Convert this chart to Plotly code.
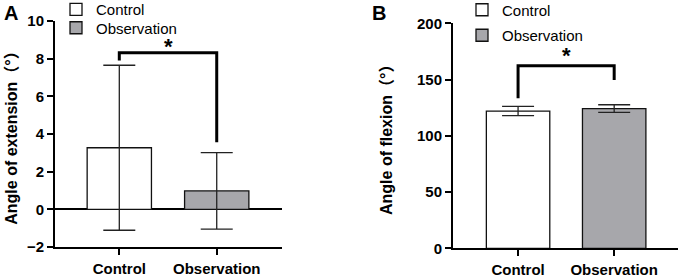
import plotly.graph_objects as go

# ---- data ----
groups = ["Control", "Observation"]
extension_mean = [3.27, 0.98]
extension_sd = [4.38, 2.03]
flexion_mean = [122.0, 124.2]
flexion_sd = [4.1, 3.4]

ext_bracket_y = [7.9, 8.32, 8.32, 3.56]
flex_bracket_y = [133.3, 162.3, 162.3, 149.6]
ext_star_y = 8.32
flex_star_y = 162.3

ext_ticks = [-2, 0, 2, 4, 6, 8, 10]
flex_ticks = [0, 50, 100, 150, 200]

fills = ["#ffffff", "#a7a7ab"]
FONT = "Arial, Liberation Sans, Noto Sans CJK SC, sans-serif"

fig = go.Figure()

legA = ["legend", "legend3"]
legB = ["legend2", "legend4"]
for i, g in enumerate(groups):
    fig.add_trace(go.Bar(
        x=[g], y=[extension_mean[i]], name=g, width=0.66,
        marker=dict(color=fills[i], line=dict(color="#111", width=1.3)),
        error_y=dict(type="data", array=[extension_sd[i]], color="#222", thickness=1.3, width=16),
        xaxis="x", yaxis="y", legend=legA[i],
    ))
for i, g in enumerate(groups):
    fig.add_trace(go.Bar(
        x=[g], y=[flexion_mean[i]], name=g, width=0.66,
        marker=dict(color=fills[i], line=dict(color="#111", width=1.3)),
        error_y=dict(type="data", array=[flexion_sd[i]], color="#222", thickness=1.3, width=16),
        xaxis="x2", yaxis="y2", legend=legB[i],
    ))

bx = [groups[0], groups[0], groups[1], groups[1]]
fig.add_trace(go.Scatter(x=bx, y=ext_bracket_y, mode="lines", line=dict(color="#000", width=3),
                         showlegend=False, xaxis="x", yaxis="y", hoverinfo="skip"))
fig.add_trace(go.Scatter(x=bx, y=flex_bracket_y, mode="lines", line=dict(color="#000", width=3),
                         showlegend=False, xaxis="x2", yaxis="y2", hoverinfo="skip"))

axis_common = dict(showline=True, linecolor="#000", linewidth=2, ticks="outside",
                   ticklen=6, tickwidth=2, tickcolor="#000", showgrid=False, automargin=False,
                   tickfont=dict(family=FONT, size=15, color="#000", weight="bold"))

leg_common = dict(xanchor="left", yanchor="top", bgcolor="rgba(0,0,0,0)",
                  font=dict(family=FONT, size=15, color="#000"))

fig.update_layout(
    width=685, height=278, margin=dict(l=0, r=0, t=0, b=0, autoexpand=False),
    paper_bgcolor="white", plot_bgcolor="white",
    barmode="overlay",
    xaxis=dict(domain=[55/685, 282/685], range=[-0.66, 1.67], anchor="y",
               ticklabelstandoff=1, **axis_common),
    yaxis=dict(domain=[31/278, 257/278], range=[-2, 10], anchor="x", tickvals=ext_ticks,
               zeroline=True, zerolinecolor="#000", zerolinewidth=2,
               title=dict(text="Angle of extension（°）", standoff=5,
                          font=dict(family=FONT, size=16, color="#000", weight="bold")),
               **axis_common),
    xaxis2=dict(domain=[453/685, 678/685], range=[-0.677, 1.664], anchor="y2",
                ticklabelstandoff=1, **axis_common),
    yaxis2=dict(domain=[29.7/278, 254.7/278], range=[0, 200], anchor="x2", tickvals=flex_ticks,
                zeroline=False,
                title=dict(text="Angle of flexion（°）", standoff=20,
                           font=dict(family=FONT, size=16, color="#000", weight="bold")),
                **axis_common),
    legend=dict(x=56/685, y=1.025, **leg_common),
    legend3=dict(x=56/685, y=0.9586, **leg_common),
    legend2=dict(x=462/685, y=1.0234, **leg_common),
    legend4=dict(x=462/685, y=0.9317, **leg_common),
    annotations=[
        dict(text="A", x=2/685, y=1.0, xref="paper", yref="paper", xanchor="left", yanchor="top",
             showarrow=False, font=dict(family=FONT, size=20, color="#000", weight="bold")),
        dict(text="B", x=370/685, y=1.0, xref="paper", yref="paper", xanchor="left", yanchor="top",
             showarrow=False, font=dict(family=FONT, size=20, color="#000", weight="bold")),
        dict(text="*", x=0.5, y=ext_star_y, xref="x", yref="y", yanchor="bottom", showarrow=False,
             yshift=-8, font=dict(family=FONT, size=22, color="#000", weight="bold")),
        dict(text="*", x=0.5, y=flex_star_y, xref="x2", yref="y2", yanchor="bottom", showarrow=False,
             yshift=-4, font=dict(family=FONT, size=22, color="#000", weight="bold")),
    ],
)

fig.write_html("out.html", post_script="document.body.style.margin='0';",
               config={"displayModeBar": False})
